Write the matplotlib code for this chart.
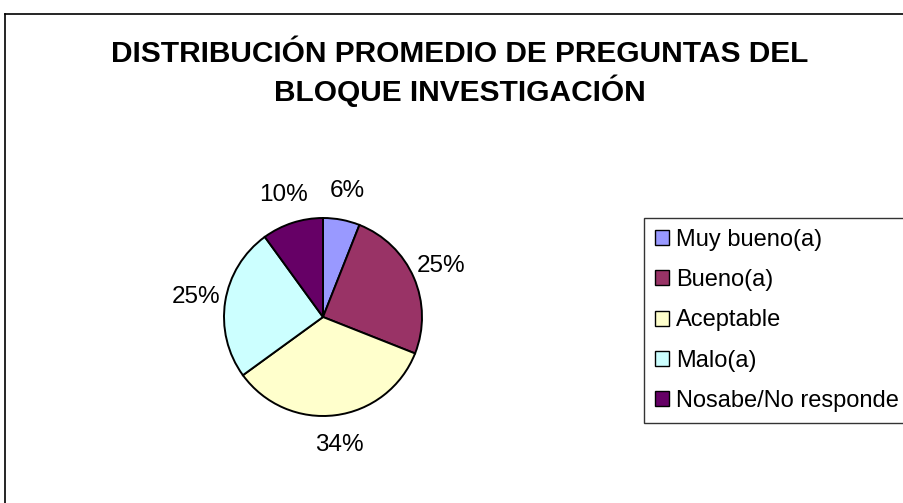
import matplotlib
matplotlib.use("Agg")
import matplotlib.pyplot as plt
from matplotlib.lines import Line2D

plt.rcParams['font.family'] = ['Liberation Sans', 'DejaVu Sans']

title = "DISTRIBUCIÓN PROMEDIO DE PREGUNTAS DEL\nBLOQUE INVESTIGACIÓN"
categories = ["Muy bueno(a)", "Bueno(a)", "Aceptable", "Malo(a)", "Nosabe/No responde"]
values = [6, 25, 34, 25, 10]
colors = ["#9999FF", "#993366", "#FFFFCC", "#CCFFFF", "#660066"]

W, H = 904, 503
fig = plt.figure(figsize=(W / 100, H / 100), dpi=100)
fig.patch.set_facecolor("white")

# chart-area border (left and top edges visible; rest cropped)
fig.add_artist(Line2D([5.5 / W, 5.5 / W], [0, (H - 13.5) / H], transform=fig.transFigure,
                      color="black", lw=1.2))
fig.add_artist(Line2D([5.5 / W, 1], [(H - 13.5) / H, (H - 13.5) / H], transform=fig.transFigure,
                      color="black", lw=1.2))

# title
fig.text(460 / W, (H - 40) / H, title, ha="center", va="top", fontsize=21.5,
         fontweight="bold", linespacing=1.25)

# pie
cx, cy, r = 323, 317, 99
ax = fig.add_axes([(cx - r) / W, (H - cy - r) / H, 2 * r / W, 2 * r / H])
wedges, texts, autotexts = ax.pie(values, colors=colors, startangle=90, counterclock=False,
                                  autopct="%1.0f%%", pctdistance=1.3,
                                  wedgeprops=dict(edgecolor="black", linewidth=1.4),
                                  textprops=dict(fontsize=17.5, color="black"))
ax.set_xlim(-1, 1)
ax.set_ylim(-1, 1)
ax.axis("off")

# legend
leg = fig.legend(wedges, categories, loc="upper left",
                 bbox_to_anchor=(644 / W, (H - 218) / H), bbox_transform=fig.transFigure,
                 fontsize=17, frameon=True, fancybox=False, shadow=False,
                 edgecolor="black", handlelength=0.6, handleheight=0.6,
                 handletextpad=0.3, labelspacing=0.78, borderpad=0.45, borderaxespad=0)
leg.get_frame().set_linewidth(1.0)
for h in leg.legend_handles:
    h.set_edgecolor("black")
    h.set_linewidth(1.0)

fig.savefig("out.png", dpi=100, facecolor="white")
